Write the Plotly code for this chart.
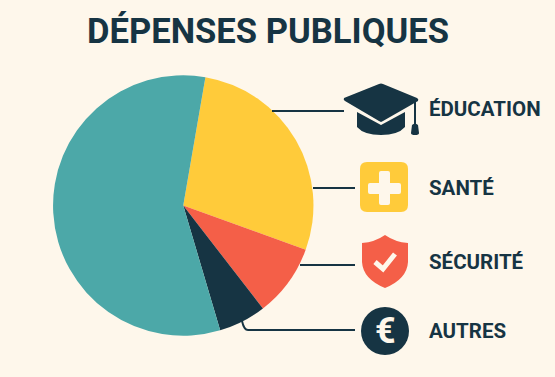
import plotly.graph_objects as go

W, H = 555, 377
BG = "#FEF7EB"
DARK = "#163443"
YELLOW = "#FFCB3A"
RED = "#F45F48"
TEAL = "#4CA8A8"

slice_names = ["Éducation", "Santé", "Autres", "Reste"]
slice_values = [27.8, 9.0, 5.9, 57.3]
slice_colors = [YELLOW, RED, DARK, TEAL]
legend_labels = ["ÉDUCATION", "SANTÉ", "SÉCURITÉ", "AUTRES"]
legend_y = [109, 188, 262, 331]
title_text = "DÉPENSES PUBLIQUES"

fig = go.Figure()
fig.add_trace(go.Scatter(x=[], y=[], xaxis="x", yaxis="y", showlegend=False, hoverinfo="skip"))
fig.add_trace(go.Pie(
    labels=slice_names, values=slice_values, sort=False, direction="clockwise",
    rotation=9.8, textinfo="none", hoverinfo="label+percent", showlegend=False,
    marker=dict(colors=slice_colors, line=dict(width=0)),
    domain=dict(x=[52.5 / W, 314 / W], y=[1 - 335.7 / H, 1 - 75.3 / H]),
))

shapes = []


def add_path(d, fill=None, line=None, width=0):
    shapes.append(dict(
        type="path", path=d, xref="x", yref="y", layer="above",
        fillcolor=fill if fill else "rgba(0,0,0,0)",
        line=dict(color=line if line else "rgba(0,0,0,0)", width=width),
    ))


# connectors
add_path("M 272 111 L 344 111", line=DARK, width=2)
add_path("M 313 188 L 355 188", line=DARK, width=2)
add_path("M 300 265 L 355 265", line=DARK, width=2)
add_path("M 242 321 Q 244 330 248 330 L 355 330", line=DARK, width=2)

# graduation cap
add_path("M 344 98 Q 343 100 345 101 L 379 121 L 381 122 L 383 121 L 418 101 "
         "Q 419 99 417 98 L 383 84 Q 381 83 379 84 Z", fill=DARK)
add_path("M 357 112 L 381 125 L 405 112 L 405 127 Q 398 135 381 135 Q 364 135 357 127 Z", fill=DARK)
add_path("M 415 100 L 415 124", line=DARK, width=2)
add_path("M 411 133 L 412 125 Q 415 122 418 125 L 419 133 Q 419 135 415 135 Q 411 135 411 133 Z", fill=DARK)

# health
add_path("M 367 162 L 401 162 Q 408 162 408 169 L 408 205 Q 408 212 401 212 L 367 212 "
         "Q 360 212 360 205 L 360 169 Q 360 162 367 162 Z", fill=YELLOW)
add_path("M 379 173 Q 379 171 381 171 L 388 171 Q 390 171 390 173 L 390 183 L 399 183 Q 401 183 401 185 "
         "L 401 192 Q 401 194 399 194 L 390 194 L 390 203 Q 390 205 388 205 L 381 205 Q 379 205 379 203 "
         "L 379 194 L 370 194 Q 368 194 368 192 L 368 185 Q 368 183 370 183 L 379 183 Z", fill=BG)

# shield
add_path("M 385 235 Q 375 242 362 243 L 362 262 Q 363 279 385 288 Q 407 279 408 262 L 408 243 Q 395 242 385 235 Z",
         fill=RED)
add_path("M 375 262 L 383 269 L 395 254", line=BG, width=5)

# euro disc
shapes.append(dict(type="circle", xref="x", yref="y", x0=361, x1=409, y0=307, y1=355,
                   fillcolor=DARK, line=dict(width=0), layer="above"))

annotations = [dict(x=268, y=31, xref="x", yref="y", text=f"<b>{title_text}</b>", showarrow=False,
                    font=dict(family="Roboto", size=34.6, color=DARK))]
for label, y in zip(legend_labels, legend_y):
    annotations.append(dict(x=426.5, y=y, xref="x", yref="y", text=f"<b>{label}</b>", showarrow=False,
                            xanchor="left", font=dict(family="Roboto", size=20.5, color=DARK)))
annotations.append(dict(x=385, y=331, xref="x", yref="y", text="<b>€</b>", showarrow=False,
                        font=dict(family="Roboto", size=36, color=BG)))

fig.update_layout(
    width=W, height=H, margin=dict(l=0, r=0, t=0, b=0),
    paper_bgcolor=BG, plot_bgcolor="rgba(0,0,0,0)",
    xaxis=dict(range=[0, W], visible=False, fixedrange=True, domain=[0, 1]),
    yaxis=dict(range=[H, 0], visible=False, fixedrange=True, domain=[0, 1]),
    shapes=shapes, annotations=annotations, showlegend=False,
)
fig.write_html("out.html", config=dict(displayModeBar=False),
               post_script=f"document.body.style.margin='0';document.body.style.background='{BG}';"
                           "document.documentElement.style.overflow='hidden';")
